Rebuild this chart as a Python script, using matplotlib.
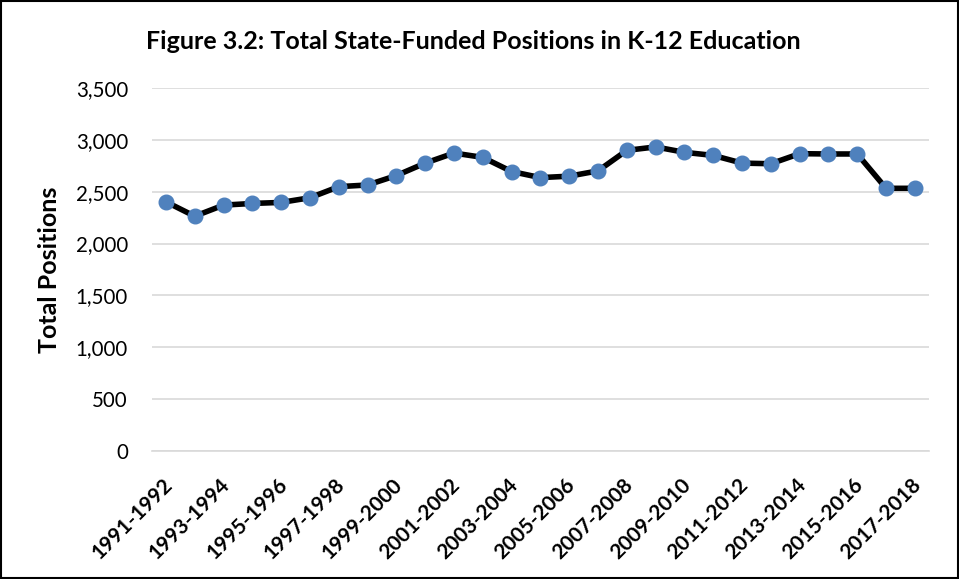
import matplotlib
matplotlib.use("Agg")
import matplotlib.pyplot as plt
from matplotlib.patches import Rectangle
from matplotlib.transforms import ScaledTranslation

years = ["1991-1992","1992-1993","1993-1994","1994-1995","1995-1996","1996-1997",
         "1997-1998","1998-1999","1999-2000","2000-2001","2001-2002","2002-2003",
         "2003-2004","2004-2005","2005-2006","2006-2007","2007-2008","2008-2009",
         "2009-2010","2010-2011","2011-2012","2012-2013","2013-2014","2014-2015",
         "2015-2016","2016-2017","2017-2018"]
positions = [2403, 2264, 2371, 2387, 2397, 2442, 2549, 2565, 2656, 2776, 2873, 2831,
             2695, 2636, 2650, 2701, 2899, 2932, 2880, 2850, 2776, 2770, 2867, 2864,
             2864, 2533, 2533]
yticks = [0, 500, 1000, 1500, 2000, 2500, 3000, 3500]

plt.rcParams['font.family'] = ['Lato', 'DejaVu Sans']

fig = plt.figure(figsize=(9.59, 5.79), dpi=100)
ax = fig.add_axes([0.158, 0.221, 0.811, 0.627])

x = list(range(len(years)))
ax.plot(x, positions, color='black', linewidth=4.0, marker='o', markersize=10.5,
        markerfacecolor='#4F81BD', markeredgecolor='#4F81BD', zorder=3)

ax.set_xlim(-0.5, len(years) - 0.5)
ax.set_ylim(0, 3500)
ax.set_yticks(yticks)
ax.set_yticklabels([f"{v:,}" for v in yticks], fontsize=14.8)
ax.yaxis.grid(True, color='#D9D9D9', linewidth=1.2)
ax.set_axisbelow(True)
for s in ['top', 'right', 'left']:
    ax.spines[s].set_visible(False)
ax.spines['bottom'].set_color('#D9D9D9')
ax.spines['bottom'].set_linewidth(1.2)
ax.tick_params(axis='both', length=0)
ax.tick_params(axis='y', pad=17)

ax.set_xticks(x[::2])
ax.set_xticklabels(years[::2], rotation=45, ha='right', va='top', rotation_mode='anchor',
                   fontsize=15, fontweight='bold')
ax.tick_params(axis='x', pad=17)
off = ScaledTranslation(-4 / 100, 0, fig.dpi_scale_trans)
for lab in ax.get_xticklabels():
    lab.set_transform(lab.get_transform() + off)

ax.set_ylabel("Total Positions", fontsize=18, fontweight='bold')
ax.yaxis.set_label_coords(-0.117, 0.5)
fig.text(0.494, 0.928, "Figure 3.2: Total State-Funded Positions in K-12 Education",
         ha='center', va='center', fontsize=18, fontweight='bold')

fig.patches.append(Rectangle((0.001, 0.001), 0.998, 0.997, transform=fig.transFigure,
                             fill=False, edgecolor='black', linewidth=1.5))

fig.savefig("out.png", dpi=100)
